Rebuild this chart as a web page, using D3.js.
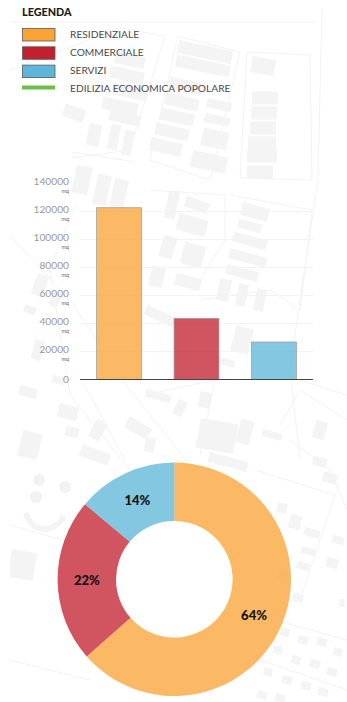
<!DOCTYPE html>
<html>
<head>
<meta charset="utf-8">
<script src="https://cdn.jsdelivr.net/npm/d3@7"></script>
<style>
html, body { margin: 0; padding: 0; background: #fff; }
svg { display: block; font-family: Lato, sans-serif; }
</style>
</head>
<body>
<div id="container"></div>
<script>
const WIDTH = 347;
const HEIGHT = 702;

// chart data
const categories = ["RESIDENZIALE", "COMMERCIALE", "SERVIZI"];
const areaValues = [122700, 43700, 26800];
const percentLabels = ["64%", "22%", "14%"];
const yTicks = [0, 20000, 40000, 60000, 80000, 100000, 120000, 140000];
const legendTitle = "LEGENDA";
const legendLine = "EDILIZIA ECONOMICA POPOLARE";
const unit = "mq";
const colors = ["#fba335", "#c2202f", "#5db5d8"];

// faint site plan behind the chart: cx, cy, w, h, rotation
const mapBlocks = [
    [205, 52, 55, 13, 12], [203, 66, 55, 12, 12], [130, 60, 30, 12, 12], [127, 75, 34, 12, 12],
    [130, 92, 36, 12, 12], [120, 106, 36, 12, 12], [125, 118, 32, 11, 12], [74, 113, 22, 13, 20],
    [186, 86, 34, 12, 12], [182, 102, 34, 12, 12], [177, 117, 34, 12, 12], [172, 132, 34, 12, 12],
    [166, 147, 32, 13, 12], [219, 105, 25, 9, 12], [217, 120, 26, 9, 12], [215, 139, 26, 18, 12],
    [209, 162, 36, 17, 12], [263, 66, 24, 16, 10], [265, 98, 26, 13, 0], [264, 113, 26, 13, 0],
    [263, 128, 26, 13, 0], [262, 143, 28, 13, 0], [262, 156, 30, 13, 0], [260, 172, 26, 13, 0],
    [94, 135, 13, 22, 12], [114, 137, 10, 25, 12], [128, 143, 10, 25, 12], [82, 180, 16, 28, 12],
    [102, 190, 14, 30, 12], [119, 194, 14, 30, 12], [172, 205, 11, 28, 12], [197, 205, 24, 11, 20],
    [192, 225, 30, 17, 15], [255, 212, 28, 13, 15], [250, 226, 24, 9, 15], [250, 241, 35, 10, 15],
    [248, 258, 38, 10, 15], [242, 273, 33, 10, 15], [224, 290, 12, 22, 12], [242, 295, 10, 22, 12],
    [260, 300, 10, 22, 12], [188, 282, 26, 12, 15], [157, 277, 14, 20, 12], [160, 316, 32, 10, 25],
    [168, 247, 14, 22, 15], [193, 255, 22, 22, 15], [242, 340, 18, 26, 15], [225, 362, 20, 7, 15],
    [158, 396, 26, 8, 15], [180, 408, 10, 16, 25], [205, 400, 12, 16, 10], [217, 436, 38, 30, 10],
    [245, 432, 14, 24, 15], [320, 430, 12, 18, 15], [272, 435, 20, 7, 15], [138, 428, 26, 12, 30],
    [68, 412, 20, 14, 15], [72, 432, 14, 10, 10], [98, 430, 12, 20, 30], [95, 455, 30, 12, 20],
    [150, 445, 10, 14, 10], [30, 445, 20, 26, 15], [40, 285, 12, 22, 20], [30, 310, 12, 8, 20],
    [55, 300, 10, 14, 30], [38, 350, 10, 20, 15], [58, 380, 12, 8, 15], [28, 392, 18, 10, 15],
    [22, 565, 26, 28, 10], [282, 508, 10, 10, 10], [312, 533, 16, 8, 15], [308, 551, 14, 7, 15],
    [303, 566, 13, 7, 15], [338, 540, 12, 8, 15], [332, 563, 12, 10, 15], [342, 603, 5, 8, 0],
    [295, 522, 12, 14, 15], [330, 478, 14, 10, 15], [283, 575, 12, 10, 15], [298, 598, 10, 8, 15],
    [285, 632, 9, 8, 15], [303, 640, 10, 8, 15], [322, 642, 10, 8, 15], [338, 652, 9, 8, 15],
    [278, 650, 9, 8, 15], [296, 660, 10, 8, 15], [315, 664, 10, 8, 15], [332, 672, 10, 8, 15],
    [268, 672, 9, 8, 15], [287, 680, 10, 8, 15], [306, 686, 10, 8, 15], [323, 692, 10, 8, 15],
    [262, 695, 10, 8, 15], [280, 698, 10, 8, 15], [228, 462, 40, 10, 15], [320, 462, 14, 9, 15]
];
const mapRoads = [
    "M10 22H315", "M10 70L120 28L165 36L130 150L72 158", "M178 36L240 52L210 180L150 160Z",
    "M247 52L310 55L312 180L240 178Z", "M322 8L318 180L300 300L290 370L300 460",
    "M72 152L135 162", "M75 205L50 270L70 395L130 470", "M150 190L225 195L225 240L200 280",
    "M230 195L312 210L300 310L270 290L200 300", "M10 235L70 300L130 390L190 465",
    "M82 380L125 460M145 395L215 380L200 455", "M300 380L347 395M280 425L300 390L347 420",
    "M10 525L80 545M10 660L90 680", "M255 470L335 495L300 600M275 620L347 640M260 660L347 690",
    "M290 440L330 470L347 510", "M160 455L205 470"
];

var svg, XScale, YScale;

var translate = function (x, y) {
    return "translate(" + x + "," + y + ")";
};

var drawMap = function () {
    var defs = svg.append("defs");
    defs.append("clipPath").attr("id", "map-clip")
        .append("rect").attr("x", 10).attr("y", 7).attr("width", WIDTH - 10).attr("height", HEIGHT - 7);
    defs.append("filter").attr("id", "map-blur")
        .append("feGaussianBlur").attr("stdDeviation", 0.6);

    var g = svg.append("g").attr("clip-path", "url(#map-clip)")
        .append("g").attr("filter", "url(#map-blur)");

    g.selectAll(".road").data(mapRoads).enter().append("path")
        .attr("class", "road")
        .attr("d", function (d) { return d; })
        .attr("fill", "none")
        .attr("stroke", "#f2f2f2")
        .attr("stroke-width", 1);

    g.selectAll(".block").data(mapBlocks).enter().append("rect")
        .attr("class", "block")
        .attr("x", function (d) { return -d[2] / 2; })
        .attr("y", function (d) { return -d[3] / 2; })
        .attr("width", function (d) { return d[2]; })
        .attr("height", function (d) { return d[3]; })
        .attr("transform", function (d) { return translate(d[0], d[1]) + " rotate(" + d[4] + ")"; })
        .attr("fill", "#f4f4f4");

    // playground shapes left of the donut
    g.append("path")
        .attr("d", d3.arc()({innerRadius: 16, outerRadius: 22, startAngle: Math.PI * 0.6, endAngle: Math.PI * 1.45}))
        .attr("transform", translate(45, 510))
        .attr("fill", "#f4f4f4");
    g.append("circle").attr("cx", 65).attr("cy", 487).attr("r", 6).attr("fill", "#f2f2f2");
    g.append("circle").attr("cx", 39).attr("cy", 480).attr("r", 6).attr("fill", "#f2f2f2");
    g.append("circle").attr("cx", 36).attr("cy", 497).attr("r", 6).attr("fill", "#f2f2f2");
};

var drawLegend = function () {
    svg.append("text")
        .attr("x", 22).attr("y", 16)
        .attr("font-size", 10.8).attr("font-weight", 900).attr("fill", "#1c1c1c")
        .text(legendTitle);

    var rows = svg.selectAll(".legend-row").data(categories).enter().append("g")
        .attr("class", "legend-row")
        .attr("transform", function (d, i) { return translate(0, 28 + i * 18.3); });
    rows.append("rect")
        .attr("x", 22.5).attr("y", 0.5).attr("width", 32.5).attr("height", 12.5)
        .attr("fill", function (d, i) { return colors[i]; })
        .attr("stroke", "#5b5b5b").attr("stroke-width", 0.8);
    rows.append("text")
        .attr("x", 70).attr("y", 9.5)
        .attr("font-size", 10.2).attr("fill", "#4a4a4a")
        .text(function (d) { return d; });

    svg.append("rect")
        .attr("x", 22).attr("y", 85.5).attr("width", 33).attr("height", 4)
        .attr("fill", "#6cbe45");
    svg.append("text")
        .attr("x", 70).attr("y", 92)
        .attr("font-size", 10.2).attr("fill", "#4a4a4a")
        .text(legendLine);
};

var drawBars = function () {
    XScale = d3.scaleBand().domain(categories).range([80, 313]).paddingInner(0.42).paddingOuter(0.215);
    YScale = d3.scaleLinear().domain([0, 140000]).range([379.5, 183.5]);

    svg.selectAll(".grid").data(yTicks.slice(1, -1)).enter().append("line")
        .attr("class", "grid")
        .attr("x1", 80).attr("x2", 313)
        .attr("y1", function (d) { return YScale(d); })
        .attr("y2", function (d) { return YScale(d); })
        .attr("stroke", "#f3f3f3");

    svg.selectAll(".bar").data(areaValues).enter().append("rect")
        .attr("class", "bar")
        .attr("x", function (d, i) { return XScale(categories[i]); })
        .attr("y", function (d) { return YScale(d); })
        .attr("width", XScale.bandwidth())
        .attr("height", function (d) { return YScale(0) - YScale(d); })
        .attr("fill", function (d, i) { return colors[i]; })
        .attr("fill-opacity", 0.76)
        .attr("stroke", "#9a9a9a")
        .attr("stroke-width", 0.7);

    var axis = svg.append("g")
        .attr("transform", translate(69, 0))
        .call(d3.axisLeft(YScale).tickValues(yTicks).tickSize(0).tickPadding(0).tickFormat(d3.format("d")));
    axis.select(".domain").remove();
    axis.selectAll("text")
        .attr("font-family", "Lato, sans-serif")
        .attr("font-size", 10.2)
        .attr("fill", "#999");
    axis.selectAll(".tick").filter(function (d) { return d > 0; })
        .each(function () {
            var tick = d3.select(this);
            tick.select("text").attr("y", -2.5);
            tick.append("text")
                .attr("x", 0).attr("y", 9)
                .attr("text-anchor", "end")
                .attr("font-family", "Lato, sans-serif")
                .attr("font-size", 5.5)
                .attr("fill", "#666")
                .text(unit);
        });

    svg.append("line")
        .attr("x1", 80).attr("x2", 313)
        .attr("y1", YScale(0)).attr("y2", YScale(0))
        .attr("stroke", "#444").attr("stroke-width", 1);
};

var drawDonut = function () {
    var pie = d3.pie().sort(null);
    var arc = d3.arc().innerRadius(58.3).outerRadius(116.7);
    var g = svg.append("g").attr("transform", translate(174.3, 579.3));

    g.append("circle").attr("r", 58.3).attr("fill", "#fff");

    var slices = g.selectAll(".slice").data(pie(areaValues)).enter().append("g").attr("class", "slice");
    slices.append("path")
        .attr("d", arc)
        .attr("fill", function (d, i) { return colors[i]; })
        .attr("fill-opacity", 0.76);
    slices.append("text")
        .attr("transform", function (d) { return "translate(" + arc.centroid(d) + ")"; })
        .attr("text-anchor", "middle")
        .attr("dy", "0.36em")
        .attr("font-size", 13)
        .attr("font-weight", 900)
        .attr("fill", "#111")
        .text(function (d, i) { return percentLabels[i]; });
};

var generateChart = function () {
    svg = d3.select("#container").append("svg")
        .attr("width", WIDTH)
        .attr("height", HEIGHT);
    drawMap();
    drawLegend();
    drawBars();
    drawDonut();
};

window.onload = generateChart;
</script>
</body>
</html>
